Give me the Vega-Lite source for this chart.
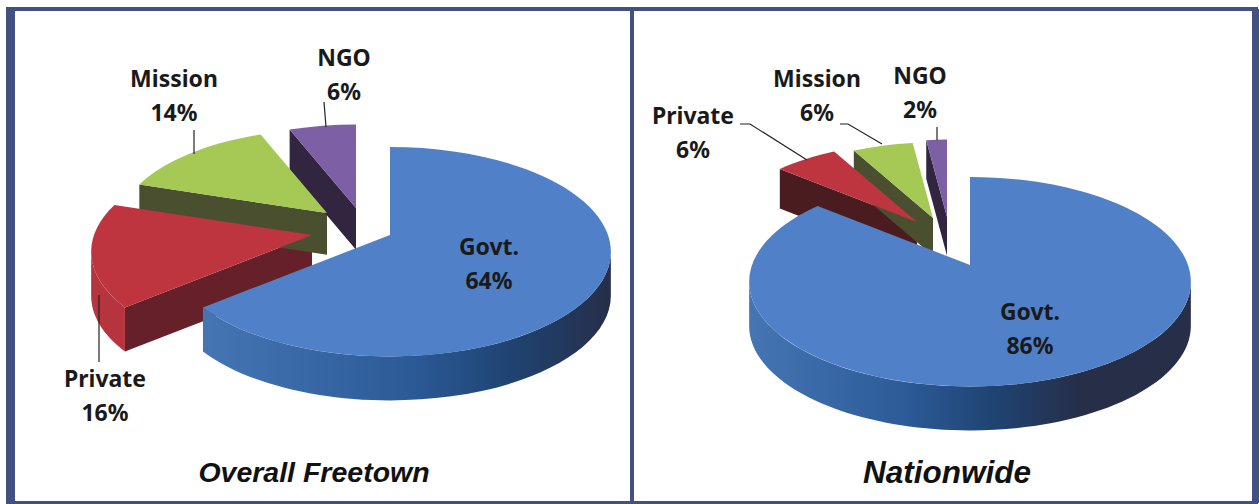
{
  "$schema": "https://vega.github.io/schema/vega-lite/v6.json",
  "background": "white",
  "padding": {"left": 6, "top": 4, "right": 0, "bottom": 0},
  "spacing": 0,
  "bounds": "flush",
  "config": {
    "view": {"stroke": null},
    "title": {"font": "Liberation Sans", "fontWeight": "bold", "fontStyle": "italic", "color": "#111111", "orient": "bottom", "anchor": "middle"}
  },
  "params": [
    {"name": "R", "value": 218},
    {"name": "V", "value": 102},
    {"name": "K", "value": 0.16},
    {"name": "D", "value": 44},
    {"name": "RX", "expr": "R/sqrt(1-K*K)"},
    {"name": "RY", "expr": "V/(1-K*K)"},
    {"name": "AR", "expr": "acos(-K)"},
    {"name": "slice", "value": {
      "Overall Freetown": {"Govt.": [70, -21, 1], "Private": [-8, -21, 1], "Mission": [7, -43, 0.95], "NGO": [36, -48, 0.95]},
      "Nationwide": {"Govt.": [26, 9, 1], "Private": [-27, -34, 0.9], "Mission": [-11, -38, 0.86], "NGO": [3, -39, 0.88]}
    }},
    {"name": "labelAt", "value": {
      "Overall Freetown": {"Govt.": [169, -8], "Private": [-215, 124], "Mission": [-146, -176], "NGO": [24, -197]},
      "Nationwide": {"Govt.": [86, 57], "Private": [-251, -139], "Mission": [-127, -176], "NGO": [-24, -179]}
    }},
    {"name": "leader", "value": {
      "Overall Freetown": {"Private": "M-221 39L-221 106", "Mission": "M-126 -126L-126 -102", "NGO": "M4 -154L6 -129"},
      "Nationwide": {"Private": "M-204 -132L-194 -132L-137 -96", "Mission": "M-104 -132L-96 -132L-62 -112", "NGO": "M-7 -129L-7 -116"}
    }}
  ],
  "datasets": {
    "freetown": [
      {"panel": "Overall Freetown", "category": "Govt.", "share": 64},
      {"panel": "Overall Freetown", "category": "Private", "share": 16},
      {"panel": "Overall Freetown", "category": "Mission", "share": 14},
      {"panel": "Overall Freetown", "category": "NGO", "share": 6}
    ],
    "nationwide": [
      {"panel": "Nationwide", "category": "Govt.", "share": 86},
      {"panel": "Nationwide", "category": "Private", "share": 6},
      {"panel": "Nationwide", "category": "Mission", "share": 6},
      {"panel": "Nationwide", "category": "NGO", "share": 2}
    ],
    "frame": [{"part": "frame"}]
  },
  "hconcat": [
    {
      "title": {"text": "Overall Freetown", "fontSize": 28.5, "offset": -49, "dx": -6},
      "width": 624,
      "height": 494,
      "data": {"name": "freetown"},
      "transform": [{"stack": "share", "groupby": ["panel"], "as": ["s0", "s1"]}],
      "resolve": {"scale": {"color": "independent"}},
      "layer": [
        {
          "data": {"name": "frame"},
          "mark": {"type": "rect", "fill": "white", "stroke": "#425082", "strokeWidth": 4},
          "encoding": {}
        },
        {
          "data": {"name": "frame"},
          "mark": {"type": "rule", "stroke": "#425082", "strokeWidth": 9},
          "encoding": {"x": {"value": 2.5}}
        },
        {
          "mark": {"type": "point", "filled": true, "opacity": 1,
            "size": {"expr": "4*slice[datum.panel][datum.category][2]*slice[datum.panel][datum.category][2]"},
            "xOffset": {"expr": "slice[datum.panel][datum.category][0]"},
            "yOffset": {"expr": "slice[datum.panel][datum.category][1]"},
            "shape": {"expr": "'M0 0L'+(R*sin(datum.s0*PI/50)/(1+K*cos(datum.s0*PI/50)))+' '+(-V*cos(datum.s0*PI/50)/(1+K*cos(datum.s0*PI/50)))+'L'+(R*sin(datum.s0*PI/50)/(1+K*cos(datum.s0*PI/50)))+' '+(D-V*cos(datum.s0*PI/50)/(1+K*cos(datum.s0*PI/50)))+'L0 '+D+'Z'"}},
          "encoding": {"color": {"field": "category", "type": "nominal", "legend": null,
            "scale": {"domain": ["Govt.", "Private", "Mission", "NGO"], "range": ["#2B5A96", "#65202A", "#4A4F30", "#32253F"]}}}
        },
        {
          "transform": [{"filter": "datum.category !== 'Govt.'"}],
          "mark": {"type": "point", "filled": true, "opacity": 1,
            "size": {"expr": "4*slice[datum.panel][datum.category][2]*slice[datum.panel][datum.category][2]"},
            "xOffset": {"expr": "slice[datum.panel][datum.category][0]"},
            "yOffset": {"expr": "slice[datum.panel][datum.category][1]"},
            "shape": {"expr": "min(datum.s1*PI/50,2*PI-AR)>max(datum.s0*PI/50,AR)?'M'+(R*sin(max(datum.s0*PI/50,AR))/(1+K*cos(max(datum.s0*PI/50,AR))))+' '+(-V*cos(max(datum.s0*PI/50,AR))/(1+K*cos(max(datum.s0*PI/50,AR))))+'A'+RX+' '+RY+' 0 0 1 '+(R*sin(min(datum.s1*PI/50,2*PI-AR))/(1+K*cos(min(datum.s1*PI/50,2*PI-AR))))+' '+(-V*cos(min(datum.s1*PI/50,2*PI-AR))/(1+K*cos(min(datum.s1*PI/50,2*PI-AR))))+'L'+(R*sin(min(datum.s1*PI/50,2*PI-AR))/(1+K*cos(min(datum.s1*PI/50,2*PI-AR))))+' '+(D-V*cos(min(datum.s1*PI/50,2*PI-AR))/(1+K*cos(min(datum.s1*PI/50,2*PI-AR))))+'A'+RX+' '+RY+' 0 0 0 '+(R*sin(max(datum.s0*PI/50,AR))/(1+K*cos(max(datum.s0*PI/50,AR))))+' '+(D-V*cos(max(datum.s0*PI/50,AR))/(1+K*cos(max(datum.s0*PI/50,AR))))+'Z':'M0 0Z'"}},
          "encoding": {"color": {"field": "category", "type": "nominal", "legend": null,
            "scale": {"domain": ["Private", "Mission", "NGO"], "range": ["#B5343E", "#4A4F30", "#32253F"]}}}
        },
        {
          "transform": [{"filter": "datum.category === 'Govt.'"}],
          "mark": {"type": "point", "filled": true, "opacity": 1,
            "color": {"gradient": "linear", "x1": 0, "y1": 0, "x2": 1, "y2": 0, "stops": [{"offset": 0, "color": "#4675B4"}, {"offset": 0.5, "color": "#2C5B98"}, {"offset": 0.75, "color": "#1F4473"}, {"offset": 1, "color": "#262E48"}]},
            "size": {"expr": "4*slice[datum.panel][datum.category][2]*slice[datum.panel][datum.category][2]"},
            "xOffset": {"expr": "slice[datum.panel][datum.category][0]"},
            "yOffset": {"expr": "slice[datum.panel][datum.category][1]"},
            "shape": {"expr": "min(datum.s1*PI/50,2*PI-AR)>max(datum.s0*PI/50,AR)?'M'+(R*sin(max(datum.s0*PI/50,AR))/(1+K*cos(max(datum.s0*PI/50,AR))))+' '+(-V*cos(max(datum.s0*PI/50,AR))/(1+K*cos(max(datum.s0*PI/50,AR))))+'A'+RX+' '+RY+' 0 0 1 '+(R*sin(min(datum.s1*PI/50,2*PI-AR))/(1+K*cos(min(datum.s1*PI/50,2*PI-AR))))+' '+(-V*cos(min(datum.s1*PI/50,2*PI-AR))/(1+K*cos(min(datum.s1*PI/50,2*PI-AR))))+'L'+(R*sin(min(datum.s1*PI/50,2*PI-AR))/(1+K*cos(min(datum.s1*PI/50,2*PI-AR))))+' '+(D-V*cos(min(datum.s1*PI/50,2*PI-AR))/(1+K*cos(min(datum.s1*PI/50,2*PI-AR))))+'A'+RX+' '+RY+' 0 0 0 '+(R*sin(max(datum.s0*PI/50,AR))/(1+K*cos(max(datum.s0*PI/50,AR))))+' '+(D-V*cos(max(datum.s0*PI/50,AR))/(1+K*cos(max(datum.s0*PI/50,AR))))+'Z':'M0 0Z'"}}
        },
        {
          "mark": {"type": "point", "filled": true, "opacity": 1,
            "size": {"expr": "4*slice[datum.panel][datum.category][2]*slice[datum.panel][datum.category][2]"},
            "xOffset": {"expr": "slice[datum.panel][datum.category][0]"},
            "yOffset": {"expr": "slice[datum.panel][datum.category][1]"},
            "shape": {"expr": "'M0 0L'+(R*sin(datum.s0*PI/50)/(1+K*cos(datum.s0*PI/50)))+' '+(-V*cos(datum.s0*PI/50)/(1+K*cos(datum.s0*PI/50)))+'A'+RX+' '+RY+' 0 '+(datum.share>50?1:0)+' 1 '+(R*sin(datum.s1*PI/50)/(1+K*cos(datum.s1*PI/50)))+' '+(-V*cos(datum.s1*PI/50)/(1+K*cos(datum.s1*PI/50)))+'Z'"}},
          "encoding": {"color": {"field": "category", "type": "nominal", "legend": null,
            "scale": {"domain": ["Govt.", "Private", "Mission", "NGO"], "range": ["#5081C8", "#BE3540", "#A5C954", "#7C5FA5"]}}}
        },
        {
          "transform": [{"filter": "datum.category !== 'Govt.'"}],
          "mark": {"type": "point", "filled": false, "opacity": 1, "size": 4, "stroke": "#222222", "strokeWidth": 1.2,
            "shape": {"expr": "leader[datum.panel][datum.category]"}}
        },
        {
          "mark": {"type": "text", "font": "Noto Sans", "fontWeight": "bold", "fontSize": 23, "lineHeight": 34, "color": "#1A1A1A", "align": "center", "baseline": "middle",
            "xOffset": {"expr": "labelAt[datum.panel][datum.category][0]"},
            "yOffset": {"expr": "labelAt[datum.panel][datum.category][1]"},
            "text": {"expr": "[datum.category, datum.share + '%']"}}
        }
      ]
    },
    {
      "title": {"text": "Nationwide", "fontSize": 31.5, "offset": -49, "dx": 3},
      "width": 624,
      "height": 494,
      "data": {"name": "nationwide"},
      "transform": [{"stack": "share", "groupby": ["panel"], "as": ["s0", "s1"]}],
      "resolve": {"scale": {"color": "independent"}},
      "layer": [
        {
          "data": {"name": "frame"},
          "mark": {"type": "rect", "fill": "white", "stroke": "#425082", "strokeWidth": 4},
          "encoding": {}
        },
        {
          "data": {"name": "frame"},
          "mark": {"type": "rule", "stroke": "#425082", "strokeWidth": 7},
          "encoding": {"x": {"value": 623.5}}
        },
        {
          "mark": {"type": "point", "filled": true, "opacity": 1,
            "size": {"expr": "4*slice[datum.panel][datum.category][2]*slice[datum.panel][datum.category][2]"},
            "xOffset": {"expr": "slice[datum.panel][datum.category][0]"},
            "yOffset": {"expr": "slice[datum.panel][datum.category][1]"},
            "shape": {"expr": "'M0 0L'+(R*sin(datum.s0*PI/50)/(1+K*cos(datum.s0*PI/50)))+' '+(-V*cos(datum.s0*PI/50)/(1+K*cos(datum.s0*PI/50)))+'L'+(R*sin(datum.s0*PI/50)/(1+K*cos(datum.s0*PI/50)))+' '+(D-V*cos(datum.s0*PI/50)/(1+K*cos(datum.s0*PI/50)))+'L0 '+D+'Z'"}},
          "encoding": {"color": {"field": "category", "type": "nominal", "legend": null,
            "scale": {"domain": ["Govt.", "Private", "Mission", "NGO"], "range": ["#2B5A96", "#4A1C20", "#4A4F30", "#32253F"]}}}
        },
        {
          "transform": [{"filter": "datum.category === 'Govt.'"}],
          "mark": {"type": "point", "filled": true, "opacity": 1,
            "color": {"gradient": "linear", "x1": 0, "y1": 0, "x2": 1, "y2": 0, "stops": [{"offset": 0, "color": "#4675B4"}, {"offset": 0.35, "color": "#2C5B98"}, {"offset": 0.55, "color": "#1F4473"}, {"offset": 0.75, "color": "#262E48"}, {"offset": 1, "color": "#262E48"}]},
            "size": {"expr": "4*slice[datum.panel][datum.category][2]*slice[datum.panel][datum.category][2]"},
            "xOffset": {"expr": "slice[datum.panel][datum.category][0]"},
            "yOffset": {"expr": "slice[datum.panel][datum.category][1]"},
            "shape": {"expr": "min(datum.s1*PI/50,2*PI-AR)>max(datum.s0*PI/50,AR)?'M'+(R*sin(max(datum.s0*PI/50,AR))/(1+K*cos(max(datum.s0*PI/50,AR))))+' '+(-V*cos(max(datum.s0*PI/50,AR))/(1+K*cos(max(datum.s0*PI/50,AR))))+'A'+RX+' '+RY+' 0 0 1 '+(R*sin(min(datum.s1*PI/50,2*PI-AR))/(1+K*cos(min(datum.s1*PI/50,2*PI-AR))))+' '+(-V*cos(min(datum.s1*PI/50,2*PI-AR))/(1+K*cos(min(datum.s1*PI/50,2*PI-AR))))+'L'+(R*sin(min(datum.s1*PI/50,2*PI-AR))/(1+K*cos(min(datum.s1*PI/50,2*PI-AR))))+' '+(D-V*cos(min(datum.s1*PI/50,2*PI-AR))/(1+K*cos(min(datum.s1*PI/50,2*PI-AR))))+'A'+RX+' '+RY+' 0 0 0 '+(R*sin(max(datum.s0*PI/50,AR))/(1+K*cos(max(datum.s0*PI/50,AR))))+' '+(D-V*cos(max(datum.s0*PI/50,AR))/(1+K*cos(max(datum.s0*PI/50,AR))))+'Z':'M0 0Z'"}}
        },
        {
          "mark": {"type": "point", "filled": true, "opacity": 1,
            "size": {"expr": "4*slice[datum.panel][datum.category][2]*slice[datum.panel][datum.category][2]"},
            "xOffset": {"expr": "slice[datum.panel][datum.category][0]"},
            "yOffset": {"expr": "slice[datum.panel][datum.category][1]"},
            "shape": {"expr": "'M0 0L'+(R*sin(datum.s0*PI/50)/(1+K*cos(datum.s0*PI/50)))+' '+(-V*cos(datum.s0*PI/50)/(1+K*cos(datum.s0*PI/50)))+'A'+RX+' '+RY+' 0 '+(datum.share>50?1:0)+' 1 '+(R*sin(datum.s1*PI/50)/(1+K*cos(datum.s1*PI/50)))+' '+(-V*cos(datum.s1*PI/50)/(1+K*cos(datum.s1*PI/50)))+'Z'"}},
          "encoding": {"color": {"field": "category", "type": "nominal", "legend": null,
            "scale": {"domain": ["Govt.", "Private", "Mission", "NGO"], "range": ["#5081C8", "#BE3540", "#A5C954", "#7C5FA5"]}}}
        },
        {
          "transform": [{"filter": "datum.category !== 'Govt.'"}],
          "mark": {"type": "point", "filled": false, "opacity": 1, "size": 4, "stroke": "#222222", "strokeWidth": 1.2,
            "shape": {"expr": "leader[datum.panel][datum.category]"}}
        },
        {
          "mark": {"type": "text", "font": "Noto Sans", "fontWeight": "bold", "fontSize": 23, "lineHeight": 34, "color": "#1A1A1A", "align": "center", "baseline": "middle",
            "xOffset": {"expr": "labelAt[datum.panel][datum.category][0]"},
            "yOffset": {"expr": "labelAt[datum.panel][datum.category][1]"},
            "text": {"expr": "[datum.category, datum.share + '%']"}}
        }
      ]
    }
  ]
}
